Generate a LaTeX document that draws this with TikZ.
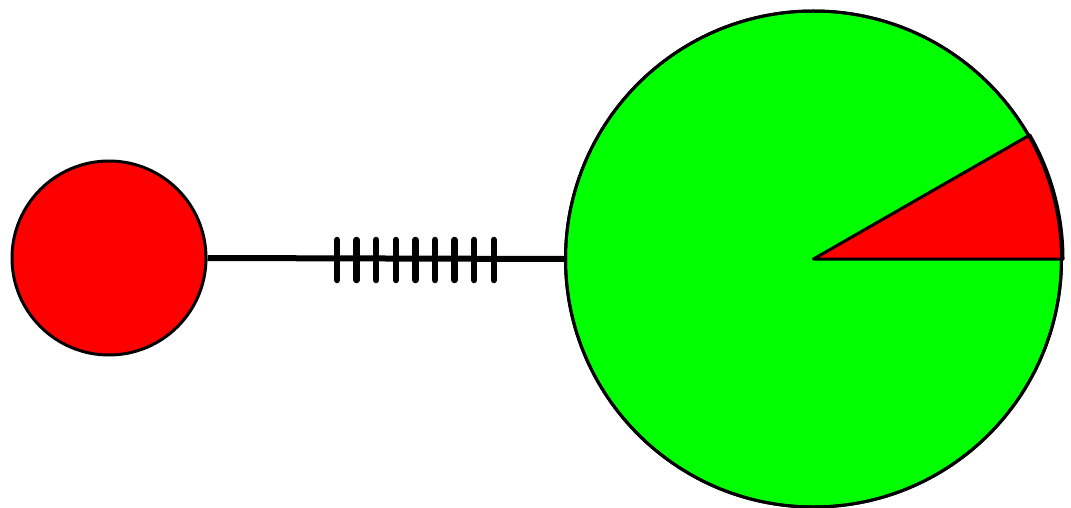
\documentclass[tikz,border=0pt]{standalone}
\begin{document}
\begin{tikzpicture}[x=1pt,y=-1pt,
  ball/.style={circle,draw=black,line width=3pt,inner sep=0pt},
  link/.style={line width=6pt},
  tick/.style={line width=6.5pt,line cap=round}]
\useasboundingbox (0,0) rectangle (1071,508);
\node[ball,fill=red,minimum size=194pt] (s) at (109,258) {};
\node[ball,fill=green,minimum size=496pt] (b) at (813.5,259) {};
\draw[fill=red,line width=3pt,line join=round] (b.center) -- (b.east) arc[start angle=0,end angle=30,radius=248pt] -- cycle;
\draw[line width=3pt] (b) circle[radius=248pt];
\draw[link] (s.east) -- (b.west);
\foreach \i in {0,...,8}{
  \coordinate (t\i) at ({337+19.6*\i},240);
  \coordinate (u\i) at ({337+19.6*\i},280);
  \draw[tick] (t\i) -- (u\i);
}
\end{tikzpicture}
\end{document}
